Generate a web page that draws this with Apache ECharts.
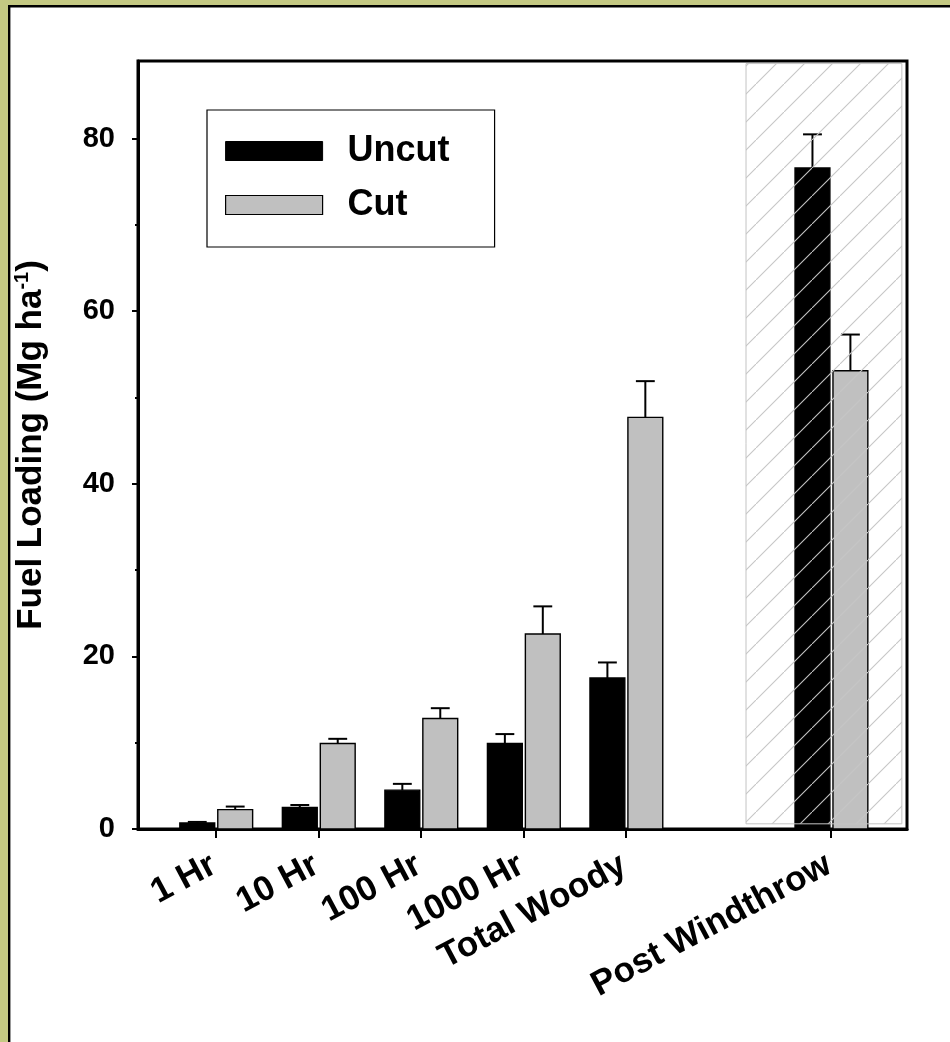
<!DOCTYPE html>
<html>
<head>
<meta charset="utf-8">
<script src="https://cdn.jsdelivr.net/npm/echarts@6/dist/echarts.min.js"></script>
<style>
  html, body { margin: 0; padding: 0; background: #c4c983; }
  #chart { width: 950px; height: 1042px; }
</style>
</head>
<body>
<div id="chart"></div>
<script>
// Fuel classes and where each sits on the x scale (slot 5 is left empty)
const categories  = ['1 Hr', '10 Hr', '100 Hr', '1000 Hr', 'Total Woody', 'Post Windthrow'];
const categoryPos = [0, 1, 2, 3, 4, 6];

// Mean fuel loading (Mg ha-1) and standard errors
const uncutMean = [0.7, 2.5, 4.5, 9.9, 17.5, 76.6];
const uncutSE   = [0.12, 0.28, 0.73, 1.1, 1.8, 3.9];
const cutMean   = [2.25, 9.9, 12.8, 22.6, 47.7, 53.1];
const cutSE     = [0.35, 0.55, 1.2, 3.2, 4.2, 4.2];

// Y axis ticks
const majorTicks = [0, 20, 40, 60, 80];
const minorTicks = [10, 30, 50, 70];

// Shaded post-windthrow block: [xFrom, xTo, yFrom, yTo]
const hatchBlock = [[5.17, 6.69, 0.6, 88.7]];

const FONT = "'Liberation Sans', Arial, sans-serif";
const LABEL_SHIFT = -0.02;

const chart = echarts.init(document.getElementById('chart'), null, { renderer: 'canvas' });

// Diagonal hatch pattern tile
const tile = document.createElement('canvas');
tile.width = 28; tile.height = 28;
(function () {
  const c = tile.getContext('2d');
  c.strokeStyle = '#c6c6c6';
  c.lineWidth = 1.1;
  c.beginPath();
  c.moveTo(-2, 30); c.lineTo(30, -2);
  c.stroke();
})();

function barRenderer(side, fill) {
  return function (params, api) {
    const x = api.value(0), mean = api.value(1), se = api.value(2);
    const band = api.size([1, 0])[0];
    const base = api.coord([x, 0]);
    const top = api.coord([x, mean]);
    const cap = api.coord([x, mean + se]);
    const w = band * 0.34;
    const left = side < 0 ? base[0] - band * 0.352 : base[0] + band * 0.018;
    const cx = left + w / 2;
    const capHalf = band * 0.092;
    return {
      type: 'group',
      children: [
        { type: 'rect', shape: { x: left, y: top[1], width: w, height: base[1] - top[1] },
          style: { fill: fill, stroke: '#000', lineWidth: 1.4 } },
        { type: 'line', shape: { x1: cx, y1: top[1], x2: cx, y2: cap[1] },
          style: { stroke: '#000', lineWidth: 2 } },
        { type: 'line', shape: { x1: cx - capHalf, y1: cap[1], x2: cx + capHalf, y2: cap[1] },
          style: { stroke: '#000', lineWidth: 2 } }
      ]
    };
  };
}

function hatchRenderer(params, api) {
  const p0 = api.coord([api.value(0), api.value(3)]);
  const p1 = api.coord([api.value(1), api.value(2)]);
  return {
    type: 'rect',
    shape: { x: p0[0], y: p0[1], width: p1[0] - p0[0], height: p1[1] - p0[1] },
    style: { fill: { image: tile, repeat: 'repeat' }, stroke: '#c4c4c4', lineWidth: 1 }
  };
}

const gridRect = { left: 138, right: 43, top: 61, bottom: 213 };

const option = {
  backgroundColor: '#c4c983',
  animation: false,
  graphic: [{
    type: 'rect', z: -10, silent: true,
    shape: { x: 9.2, y: 6.2, width: 1000, height: 1100 },
    style: { fill: '#fff', stroke: '#000', lineWidth: 2.4 }
  }],
  grid: [
    Object.assign({ show: true, borderColor: '#000', borderWidth: 3, backgroundColor: 'transparent' }, gridRect),
    Object.assign({ show: false }, gridRect)
  ],
  legend: {
    left: 207, top: 110, orient: 'vertical', icon: 'rect',
    itemWidth: 97, itemHeight: 19, itemGap: 18,
    padding: [23, 45, 24, 18],
    borderColor: '#000', borderWidth: 1.2, backgroundColor: '#fff',
    textStyle: { fontFamily: FONT, fontSize: 36, fontWeight: 'bold', color: '#000', padding: [0, 0, 0, 20] },
    data: [
      { name: 'Uncut', itemStyle: { color: '#000', borderColor: '#000', borderWidth: 1 } },
      { name: 'Cut', itemStyle: { color: '#c0c0c0', borderColor: '#000', borderWidth: 1.2 } }
    ]
  },
  xAxis: [{
    type: 'value', gridIndex: 0, min: -0.76, max: 6.74,
    axisLine: { show: true, onZero: false, lineStyle: { color: '#000', width: 3 } },
    axisTick: { show: true, customValues: categoryPos, length: 9, lineStyle: { color: '#000', width: 2 } },
    axisLabel: {
      customValues: categoryPos.map(p => p + LABEL_SHIFT),
      formatter: v => categories[categoryPos.indexOf(Math.round(v - LABEL_SHIFT))] || '',
      rotate: 28, margin: 34, color: '#000',
      fontFamily: FONT, fontSize: 35, fontWeight: 'bold'
    },
    splitLine: { show: false }
  }, {
    type: 'value', gridIndex: 1, min: -0.76, max: 6.74, show: false
  }],
  yAxis: [{
    type: 'value', gridIndex: 0, min: 0, max: 89,
    name: '{a|Fuel Loading (Mg ha}{s|-1}{a|)}',
    nameLocation: 'middle', nameGap: 88,
    nameTextStyle: {
      rich: {
        a: { fontFamily: FONT, fontSize: 35, fontWeight: 'bold', color: '#000', lineHeight: 38 },
        s: { fontFamily: FONT, fontSize: 20, fontWeight: 'bold', color: '#000', verticalAlign: 'top', lineHeight: 22 }
      }
    },
    axisLine: { show: true, onZero: false, lineStyle: { color: '#000', width: 3 } },
    axisTick: { show: true, customValues: majorTicks, length: 6, lineStyle: { color: '#000', width: 2 } },
    axisLabel: {
      customValues: majorTicks, margin: 23, color: '#000',
      fontFamily: FONT, fontSize: 29, fontWeight: 'bold'
    },
    splitLine: { show: false }
  }, {
    type: 'value', gridIndex: 1, min: 0, max: 89, position: 'left',
    axisLine: { show: false, onZero: false },
    axisTick: { show: true, customValues: minorTicks, length: 3, lineStyle: { color: '#000', width: 2 } },
    axisLabel: { show: false },
    splitLine: { show: false }
  }],
  series: [
    {
      name: 'Uncut', type: 'custom', xAxisIndex: 0, yAxisIndex: 0, z: 2,
      itemStyle: { color: '#000', borderColor: '#000' },
      renderItem: barRenderer(-1, '#000'),
      encode: { x: 0, y: [1, 2] },
      data: categoryPos.map((p, i) => [p, uncutMean[i], uncutSE[i]])
    },
    {
      name: 'Cut', type: 'custom', xAxisIndex: 0, yAxisIndex: 0, z: 2,
      itemStyle: { color: '#c0c0c0', borderColor: '#000' },
      renderItem: barRenderer(1, '#c0c0c0'),
      encode: { x: 0, y: [1, 2] },
      data: categoryPos.map((p, i) => [p, cutMean[i], cutSE[i]])
    },
    {
      name: 'hatch', type: 'custom', xAxisIndex: 0, yAxisIndex: 0, z: 5, silent: true,
      renderItem: hatchRenderer,
      encode: { x: [0, 1], y: [2, 3] },
      data: hatchBlock
    }
  ]
};

chart.setOption(option);
</script>
</body>
</html>
